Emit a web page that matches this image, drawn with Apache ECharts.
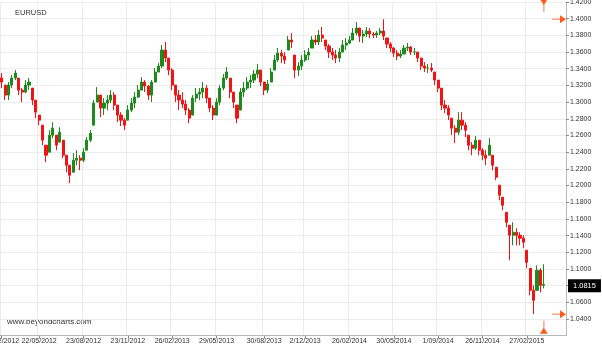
<!DOCTYPE html>
<html>
<head>
<meta charset="utf-8">
<script src="https://cdn.jsdelivr.net/npm/echarts@6/dist/echarts.min.js"></script>
<style>
html,body{margin:0;padding:0;background:#fff;}
#chart{width:602px;height:345px;}
</style>
</head>
<body>
<div id="chart"></div>
<script>
// ---- data (weekly bars) ----
const opens = [
1.3290,1.3204,1.3084,1.3204,1.3288,1.3288,1.3144,1.3120,1.3204,1.3168,
1.3024,1.2844,1.2724,1.2484,1.2400,1.2604,1.2604,1.2520,1.2544,1.2364,
1.2244,1.2160,1.2304,1.2328,1.2304,1.2424,1.2544,1.2724,1.3000,1.3084,
1.2928,1.2988,1.3024,1.3084,1.2964,1.2844,1.2784,1.2784,1.2904,1.2988,
1.3060,1.3144,1.3240,1.3192,1.3084,1.3240,1.3360,1.3432,1.3624,1.3528,
1.3384,1.3204,1.3084,1.3024,1.2976,1.2904,1.2844,1.3048,1.3096,1.3120,
1.3168,1.3048,1.2928,1.2844,1.3000,1.3168,1.3288,1.3288,1.3120,1.2964,
1.2904,1.3120,1.3168,1.3240,1.3264,1.3336,1.3384,1.3240,1.3144,1.3240,
1.3384,1.3504,1.3588,1.3552,1.3624,1.3744,1.3564,1.3384,1.3432,1.3504,
1.3564,1.3648,1.3744,1.3720,1.3804,1.3744,1.3672,1.3600,1.3564,1.3528,
1.3600,1.3684,1.3708,1.3744,1.3828,1.3888,1.3792,1.3816,1.3852,1.3816,
1.3804,1.3828,1.3852,1.3768,1.3696,1.3648,1.3588,1.3552,1.3576,1.3648,
1.3660,1.3600,1.3600,1.3528,1.3432,1.3408,1.3408,1.3360,1.3264,1.3168,
1.2964,1.2928,1.2808,1.2688,1.2640,1.2784,1.2724,1.2604,1.2484,1.2448,
1.2544,1.2424,1.2364,1.2364,1.2364,1.2220,1.2004,1.1860,1.1680,1.1524,
1.1404,1.1440,1.1404,1.1368,1.1224,1.1008,1.0744,1.0744,1.0984,1.0804
];
const closes = [
1.3240,1.3084,1.3204,1.3288,1.3348,1.3144,1.3120,1.3204,1.3240,1.3024,
1.2880,1.2784,1.2544,1.2364,1.2604,1.2688,1.2484,1.2640,1.2364,1.2244,
1.2124,1.2304,1.2328,1.2304,1.2400,1.2544,1.2628,1.2988,1.3084,1.2928,
1.2988,1.3024,1.3084,1.2964,1.2844,1.2784,1.2724,1.2904,1.2988,1.3060,
1.3144,1.3240,1.3192,1.3084,1.3240,1.3360,1.3432,1.3624,1.3528,1.3384,
1.3204,1.3084,1.3024,1.2976,1.2904,1.2808,1.3048,1.3096,1.3120,1.3168,
1.3048,1.2928,1.2844,1.3000,1.3168,1.3288,1.3360,1.3120,1.3000,1.2808,
1.3120,1.3168,1.3240,1.3264,1.3336,1.3384,1.3240,1.3144,1.3216,1.3360,
1.3504,1.3588,1.3552,1.3504,1.3744,1.3720,1.3384,1.3432,1.3504,1.3564,
1.3600,1.3744,1.3720,1.3804,1.3768,1.3672,1.3600,1.3564,1.3528,1.3600,
1.3684,1.3708,1.3744,1.3828,1.3888,1.3792,1.3816,1.3852,1.3816,1.3804,
1.3828,1.3852,1.3792,1.3696,1.3648,1.3588,1.3552,1.3576,1.3648,1.3660,
1.3600,1.3600,1.3528,1.3432,1.3408,1.3408,1.3384,1.3264,1.3168,1.2964,
1.2928,1.2844,1.2688,1.2640,1.2784,1.2724,1.2664,1.2484,1.2448,1.2544,
1.2424,1.2364,1.2328,1.2484,1.2244,1.2100,1.1884,1.1764,1.1560,1.1404,
1.1440,1.1404,1.1368,1.1320,1.1080,1.0744,1.0624,1.0984,1.0804,1.0815
];
const highs = [
1.3348,1.3204,1.3240,1.3324,1.3384,1.3288,1.3168,1.3264,1.3288,1.3168,
1.3024,1.2844,1.2724,1.2484,1.2664,1.2760,1.2604,1.2700,1.2544,1.2364,
1.2244,1.2388,1.2424,1.2364,1.2448,1.2580,1.2664,1.3024,1.3180,1.3084,
1.3048,1.3084,1.3144,1.3120,1.2964,1.2880,1.2808,1.2964,1.3048,1.3120,
1.3204,1.3300,1.3264,1.3204,1.3264,1.3408,1.3468,1.3684,1.3720,1.3528,
1.3408,1.3204,1.3144,1.3120,1.3024,1.2928,1.3084,1.3168,1.3168,1.3240,
1.3204,1.3048,1.2964,1.3048,1.3204,1.3336,1.3420,1.3288,1.3120,1.2964,
1.3168,1.3240,1.3300,1.3324,1.3384,1.3456,1.3384,1.3240,1.3264,1.3408,
1.3564,1.3648,1.3624,1.3600,1.3792,1.3828,1.3564,1.3480,1.3564,1.3624,
1.3648,1.3792,1.3804,1.3864,1.3900,1.3744,1.3696,1.3648,1.3624,1.3648,
1.3744,1.3768,1.3792,1.3888,1.3960,1.3888,1.3864,1.3900,1.3888,1.3840,
1.3852,1.3888,1.3993,1.3768,1.3720,1.3660,1.3624,1.3624,1.3684,1.3708,
1.3672,1.3648,1.3600,1.3528,1.3480,1.3456,1.3468,1.3360,1.3264,1.3168,
1.3024,1.2964,1.2808,1.2724,1.2880,1.2880,1.2760,1.2604,1.2520,1.2592,
1.2544,1.2448,1.2424,1.2568,1.2364,1.2220,1.2004,1.1860,1.1680,1.1524,
1.1560,1.1488,1.1440,1.1404,1.1224,1.1008,1.0804,1.1044,1.1008,1.1056
];
const lows = [
1.3168,1.3024,1.3024,1.3168,1.3264,1.3084,1.3000,1.3108,1.3144,1.2964,
1.2808,1.2724,1.2484,1.2280,1.2400,1.2568,1.2424,1.2520,1.2328,1.2160,
1.2028,1.2160,1.2244,1.2184,1.2280,1.2424,1.2520,1.2724,1.3000,1.2820,
1.2844,1.2904,1.2988,1.2904,1.2760,1.2712,1.2664,1.2784,1.2880,1.2928,
1.3048,1.3144,1.3120,1.3024,1.3000,1.3240,1.3360,1.3408,1.3480,1.3324,
1.3144,1.3000,1.2904,1.2928,1.2844,1.2748,1.2844,1.3000,1.3024,1.3048,
1.2988,1.2880,1.2784,1.2844,1.2964,1.3144,1.3264,1.3048,1.2928,1.2748,
1.2904,1.3060,1.3144,1.3168,1.3228,1.3288,1.3192,1.3084,1.3108,1.3240,
1.3384,1.3480,1.3468,1.3456,1.3624,1.3648,1.3288,1.3312,1.3384,1.3480,
1.3504,1.3648,1.3684,1.3684,1.3720,1.3624,1.3528,1.3504,1.3468,1.3480,
1.3600,1.3624,1.3696,1.3744,1.3804,1.3720,1.3708,1.3780,1.3768,1.3768,
1.3768,1.3804,1.3744,1.3648,1.3600,1.3540,1.3504,1.3528,1.3576,1.3612,
1.3564,1.3564,1.3480,1.3384,1.3360,1.3348,1.3360,1.3204,1.3120,1.2904,
1.2868,1.2784,1.2604,1.2508,1.2604,1.2664,1.2580,1.2424,1.2364,1.2424,
1.2364,1.2304,1.2244,1.2364,1.2184,1.2064,1.1824,1.1704,1.1500,1.1104,
1.1284,1.1284,1.1284,1.1248,1.1008,1.0684,1.0458,1.0744,1.0720,1.0768
];
const tickLabels = ["21/02/2012","22/05/2012","23/08/2012","23/11/2012","26/02/2013","29/05/2013","30/08/2013","2/12/2013","26/02/2014","30/05/2014","1/09/2014","26/11/2014","27/02/2015"];
const tickIndex = [0,11,24,37,50,63,77,89,102,115,128,141,154];
const slotCount = 166;
const rangeHigh = 1.3993;
const rangeLow = 1.0458;
const seriesName = "EURUSD";
const siteName = "www.beyondcharts.com";

// ---- build ----
const categories = [];
for (let i = 0; i < slotCount; i++) categories.push('');
tickIndex.forEach((k, j) => { categories[k] = tickLabels[j]; });
const ohlc = opens.map((o, i) => [o, closes[i], lows[i], highs[i]]);
const lastIdx = closes.length - 1;
const lastClose = closes[lastIdx];
const isTick = (idx, val) => val !== '';

const UP = '#1d8a1d', DOWN = '#f01414', MARK = '#ff5a1e', MARK_L = '#ffa586';
const FONT = '"Liberation Sans", Arial, sans-serif';

const chart = echarts.init(document.getElementById('chart'), null, {renderer: 'canvas'});
chart.setOption({
  animation: false,
  backgroundColor: '#ffffff',
  title: {
    text: seriesName, left: 10, top: 4,
    textStyle: {fontSize: 7.5, fontWeight: 'normal', color: '#333', fontFamily: FONT}
  },
  graphic: [{
    type: 'text', left: 7, top: 318,
    style: {text: siteName, fontSize: 8, fill: '#333', font: '8px ' + FONT}
  }],
  grid: {left: 0, right: 36, top: 2, bottom: 9.3, containLabel: false, outerBoundsMode: 'none'},
  xAxis: {
    type: 'category',
    data: categories,
    boundaryGap: true,
    axisLine: {show: true, lineStyle: {color: '#b8b8b8'}},
    axisTick: {show: true, alignWithLabel: true, interval: isTick, length: 3, lineStyle: {color: '#888'}},
    axisLabel: {interval: isTick, fontSize: 7, color: '#333', margin: 2, fontFamily: FONT, hideOverlap: false},
    splitLine: {show: true, interval: isTick, lineStyle: {color: '#ececec', width: 1}}
  },
  yAxis: {
    type: 'value',
    position: 'right',
    min: 1.02, max: 1.42, interval: 0.02,
    axisLine: {show: true, lineStyle: {color: '#b8b8b8'}},
    axisTick: {show: true, length: 3, lineStyle: {color: '#888'}},
    axisLabel: {showMinLabel: false, fontSize: 7, color: '#333', margin: 4, fontFamily: FONT,
      formatter: v => v.toFixed(4)},
    splitLine: {show: true, lineStyle: {color: '#ececec', width: 1}}
  },
  series: [{
    type: 'candlestick',
    name: seriesName,
    data: ohlc,
    barWidth: 2.6,
    z: 3,
    itemStyle: {color: UP, color0: DOWN, borderColor: UP, borderColor0: DOWN, borderWidth: 1},
    markLine: {
      silent: true, symbol: 'none', animation: false,
      z: 10,
      lineStyle: {color: 'rgba(0,0,0,0)', width: 0, type: 'solid'},
      label: {
        show: true,
        position: 'end', distance: 2,
        formatter: () => lastClose.toFixed(4),
        backgroundColor: '#000', color: '#fff', fontSize: 7.5, fontFamily: FONT,
        padding: [3, 5, 2, 5]
      },
      data: [{yAxis: lastClose}]
    }
  }, {
    type: 'custom',
    silent: true,
    clip: false,
    z: 4,
    data: [[lastIdx, rangeHigh, rangeLow]],
    renderItem: function (params, api) {
      const cs = params.coordSys;
      const x = api.coord([api.value(0), api.value(1)])[0];
      const yH = api.coord([api.value(0), api.value(1)])[1];
      const yL = api.coord([api.value(0), api.value(2)])[1];
      const top = cs.y, bottom = cs.y + cs.height - 3, right = cs.x + cs.width;
      const line = (x1, y1, x2, y2) => ({type: 'line', shape: {x1, y1, x2, y2}, style: {stroke: MARK_L, lineWidth: 1.5}});
      const tri = (pts) => ({type: 'polygon', shape: {points: pts}, style: {fill: MARK}});
      return {type: 'group', children: [
        line(x, top, x, top + 10),
        tri([[x - 4, top - 3], [x + 4, top - 3], [x, top + 3]]),
        line(x, bottom - 12, x, bottom - 2),
        tri([[x - 4, bottom + 1], [x + 4, bottom + 1], [x, bottom - 5]]),
        line(right - 14, yH, right - 2, yH),
        tri([[right - 6, yH - 4], [right - 6, yH + 4], [right, yH]]),
        line(right - 14, yL, right - 2, yL),
        tri([[right - 6, yL - 4], [right - 6, yL + 4], [right, yL]])
      ]};
    }
  }]
});
</script>
</body>
</html>
